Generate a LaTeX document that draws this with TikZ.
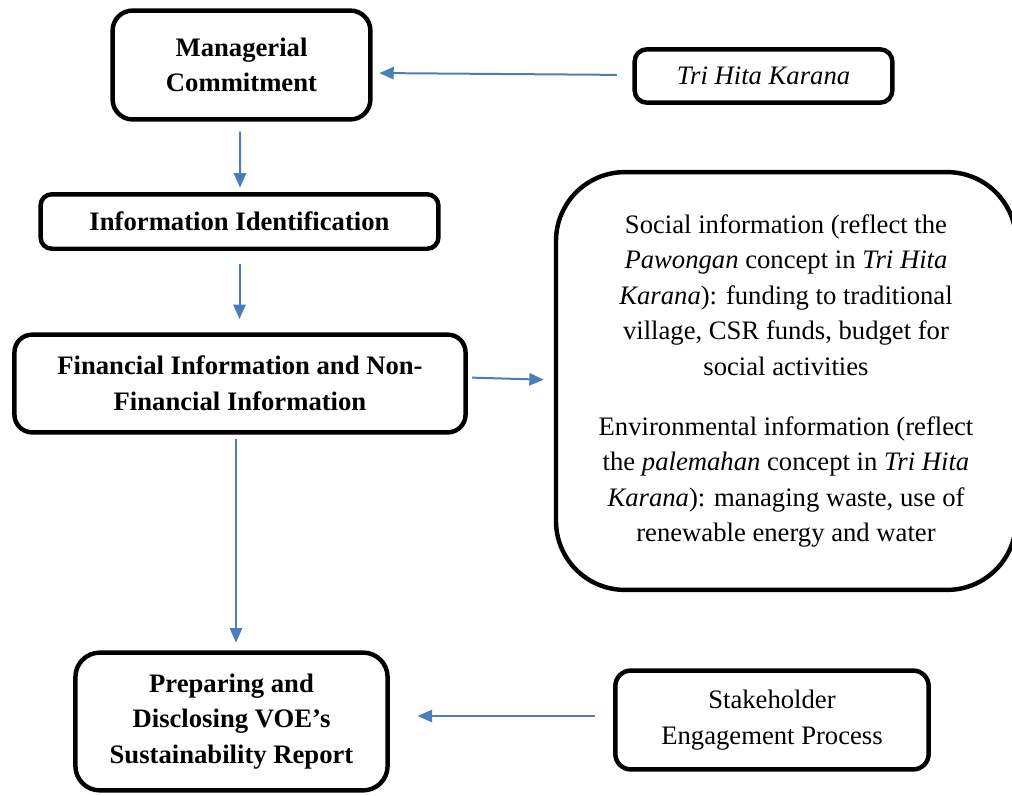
\documentclass[tikz,border=0pt]{standalone}
\usepackage{fontspec}
\setmainfont{Liberation Serif}
\usepackage{tikz}
\usetikzlibrary{calc,arrows.meta,positioning}
\definecolor{arrowblue}{RGB}{74,126,187}

\begin{document}
\begin{tikzpicture}[x=0.45pt, y=-0.45pt,
		box/.style={draw, line width=2pt, align=center, inner sep=0pt, font=\fontsize{12}{16}\selectfont},
		boldbox/.style={box, font=\fontsize{12}{16}\selectfont\bfseries},
		conn/.style={draw=arrowblue, line width=0.9pt, -{Triangle[length=6.5pt, width=5.5pt]}}]
					\useasboundingbox (0,0) rectangle (1012,796);
					\coordinate (origin) at (0, 0);

					\node[boldbox, rounded corners=9pt, minimum width=116pt, minimum height=49pt] (commit) at ($(origin) + (241.5, 65)$) {Managerial\\Commitment};
					\node[box, rounded corners=5.5pt, minimum width=116pt, minimum height=24pt] (thk) at ($(origin) + (763.5, 76)$) {\textit{Tri Hita Karana}};
					\node[boldbox, rounded corners=5pt, minimum width=179pt, minimum height=24.5pt] (ident) at ($(origin) + (239.5, 221.5)$) {Information Identification};
					\node[boldbox, rounded corners=8pt, minimum width=203pt, minimum height=44pt] (fin) at ($(origin) + (240, 383.5)$) {Financial Information and Non-\\Financial Information};
					\node[box, rounded corners=31pt, minimum width=207pt, minimum height=188pt] (info) at ($(origin) + (786, 381)$) {Social information (reflect the\\\textit{Pawongan} concept in \textit{Tri Hita}\\\textit{Karana}): funding to traditional\\village, CSR funds, budget for\\social activities\\[11pt]Environmental information (reflect\\the \textit{palemahan} concept in \textit{Tri Hita}\\\textit{Karana}): managing waste, use of\\renewable energy and water};
					\node[boldbox, rounded corners=11pt, minimum width=140.5pt, minimum height=62pt] (report) at ($(origin) + (231.5, 721.5)$) {Preparing and\\Disclosing VOE's\\Sustainability Report};
					\node[box, rounded corners=7pt, minimum width=141pt, minimum height=44.5pt] (stake) at ($(origin) + (772, 720)$) {Stakeholder\\Engagement Process};

					%\draw [conn] (thk) -- (commit);
					\draw [conn, shorten <=7pt, shorten >=3pt] ($(thk.west) + (0, -1)$) -- ($(commit.east |- thk.west) + (0, -3)$);
					\draw [conn, shorten <=4.5pt, shorten >=2pt] ($(commit.south) + (-1.5, 0)$) -- ($(ident.north) + (0.5, 0)$);
					\draw [conn, shorten <=6pt, shorten >=6pt] (ident.south) -- (ident.south |- fin.north);
					\draw [conn, shorten <=2pt, shorten >=4.5pt] ($(fin.east) + (0, -6)$) -- ($(info.west) + (0, -1)$);
					\draw [conn, shorten <=2pt, shorten >=3.5pt] ($(fin.south) + (-4, 0)$) -- ($(fin.south |- report.north) + (-4, 0)$);
					\draw [conn, shorten <=8pt, shorten >=12.5pt] ($(stake.west) + (0, -4)$) -- ($(report.east |- stake.west) + (0, -4)$);
				\end{tikzpicture}
\end{document}
